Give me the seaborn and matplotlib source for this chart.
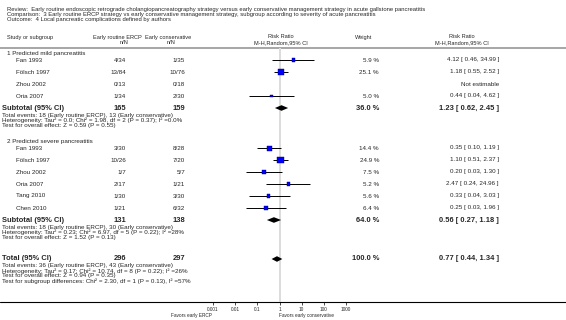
# Forest plot: early routine ERCP vs early conservative management, local complications

import numpy as np
import pandas as pd
import matplotlib
matplotlib.use("Agg")
import matplotlib.pyplot as plt
import seaborn as sns

review = ("Review:  Early routine endoscopic retrograde cholangiopancreatography strategy "
          "versus early conservative management strategy in acute gallstone pancreatitis")
comparison = ("Comparison:  3 Early routine ERCP strategy vs early conservative management "
              "strategy, subgroup according to severity of acute pancreatitis")
outcome = "Outcome:  4 Local pancreatic complications defined by authors"

# subgroup 1
mild_name = "1 Predicted mild pancreatitis"
mild_studies = ["Fan 1993", "Fölsch 1997", "Zhou 2002", "Oria 2007"]
mild_ercp = ["4/34", "13/84", "0/13", "1/34"]
mild_cons = ["1/35", "10/76", "0/18", "2/30"]
mild_weight = [5.9, 25.1, np.nan, 5.0]
mild_rr = [4.12, 1.18, np.nan, 0.44]
mild_lo = [0.46, 0.55, np.nan, 0.04]
mild_hi = [34.99, 2.52, np.nan, 4.62]
mild_sub = ["165", "159", 36.0, 1.23, 0.62, 2.45]
mild_stats = ["Total events: 18 (Early routine ERCP), 13 (Early conservative)",
              "Heterogeneity: Tau² = 0.0; Chi² = 1.98, df = 2 (P = 0.37); I² =0.0%",
              "Test for overall effect: Z = 0.59 (P = 0.55)"]

# subgroup 2
severe_name = "2 Predicted severe pancreatitis"
severe_studies = ["Fan 1993", "Fölsch 1997", "Zhou 2002", "Oria 2007", "Tang 2010", "Chen 2010"]
severe_ercp = ["3/30", "10/26", "1/7", "2/17", "1/30", "1/21"]
severe_cons = ["8/28", "7/20", "5/7", "1/21", "3/30", "6/32"]
severe_weight = [14.4, 24.9, 7.5, 5.2, 5.6, 6.4]
severe_rr = [0.35, 1.10, 0.20, 2.47, 0.33, 0.25]
severe_lo = [0.10, 0.51, 0.03, 0.24, 0.04, 0.03]
severe_hi = [1.19, 2.37, 1.30, 24.96, 3.03, 1.96]
severe_sub = ["131", "138", 64.0, 0.56, 0.27, 1.18]
severe_stats = ["Total events: 18 (Early routine ERCP), 30 (Early conservative)",
                "Heterogeneity: Tau² = 0.23; Chi² = 6.97, df = 5 (P = 0.22); I² =28%",
                "Test for overall effect: Z = 1.52 (P = 0.13)"]

# overall
total_row = ["296", "297", 100.0, 0.77, 0.44, 1.34]
total_stats = ["Total events: 36 (Early routine ERCP), 43 (Early conservative)",
               "Heterogeneity: Tau² = 0.17; Chi² = 10.74, df = 8 (P = 0.22); I² =26%",
               "Test for overall effect: Z = 0.94 (P = 0.35)",
               "Test for subgroup differences: Chi² = 2.30, df = 1 (P = 0.13), I² =57%"]

tick_vals = [0.001, 0.01, 0.1, 1, 10, 100, 1000]
tick_labels = ["0.001", "0.01", "0.1", "1", "10", "100", "1000"]

sns.set_style("white")
plt.rcParams["font.family"] = ["Liberation Sans", "DejaVu Sans"]

W, H = 566, 320
fig = plt.figure(figsize=(W / 100, H / 100), dpi=100)

# text layer in pixel coordinates
tx = fig.add_axes([0, 0, 1, 1])
tx.set_xlim(0, W)
tx.set_ylim(H, 0)
tx.axis("off")

# forest axis
top, bot = 48, 302
x_left, x_right = 213, 346
ax = fig.add_axes([x_left / W, (H - bot) / H, (x_right - x_left) / W, (bot - top) / H])
ax.patch.set_alpha(0)
ax.set_xscale("log")
ax.set_xlim(1e-3, 1e3)
ax.set_ylim(bot, top)

FS = 4.5
FSH = 4.1
FSS = 4.5
FSB = 5.4
col_study, col_ercp, col_cons, col_wt, col_rr = 16, 126, 185, 379, 499


def rr_text(rr, lo, hi):
    return f"{rr:.2f} [ {lo:.2f}, {hi:.2f} ]"


# headers
for i, line in enumerate([review, comparison, outcome]):
    tx.text(7, 9.5 + 5.2 * i, line, fontsize=4.25, va="center")
tx.text(7, 38, "Study or subgroup", fontsize=FSH, va="center")
tx.text(117, 37, "Early routine ERCP", fontsize=FSH, va="center", ha="center")
tx.text(124, 43, "n/N", fontsize=FSH, va="center", ha="center")
tx.text(168, 37, "Early conservative", fontsize=FSH, va="center", ha="center")
tx.text(171, 43, "n/N", fontsize=FSH, va="center", ha="center")
tx.text(281, 37, "Risk Ratio", fontsize=FSH, va="center", ha="center")
tx.text(281, 43, "M-H,Random,95% CI", fontsize=FSH, va="center", ha="center")
tx.text(364, 37, "Weight", fontsize=FSH, va="center", ha="center")
tx.text(462, 37, "Risk Ratio", fontsize=FSH, va="center", ha="center")
tx.text(462, 43, "M-H,Random,95% CI", fontsize=FSH, va="center", ha="center")
tx.axhline(top, color="#a6a6a6", lw=1.4)
tx.axhline(bot, color="black", lw=0.8)

ax.axvline(1, color="#dcdcdc", lw=1.4, zorder=0)

groups = [
    (mild_name, mild_studies, mild_ercp, mild_cons, mild_weight, mild_rr, mild_lo, mild_hi, mild_sub, mild_stats),
    (severe_name, severe_studies, severe_ercp, severe_cons, severe_weight, severe_rr, severe_lo, severe_hi, severe_sub, severe_stats),
]

frames = []
summaries = []
y = 54
for name, studies, ercp, cons, wt, rr, lo, hi, sub, stats in groups:
    tx.text(7, y, name, fontsize=FS, va="center")
    ys = [y + 6 + 12 * i for i in range(len(studies))]
    for yi, s, e, c, w, r, l, h in zip(ys, studies, ercp, cons, wt, rr, lo, hi):
        tx.text(col_study, yi, s, fontsize=FS, va="center")
        tx.text(col_ercp, yi, e, fontsize=FS, va="center", ha="right")
        tx.text(col_cons, yi, c, fontsize=FS, va="center", ha="right")
        if np.isnan(r):
            tx.text(col_rr, yi, "Not estimable", fontsize=FS, va="center", ha="right")
        else:
            tx.text(col_wt, yi, f"{w:.1f} %", fontsize=FS, va="center", ha="right")
            tx.text(col_rr, yi, rr_text(r, l, h), fontsize=FS, va="center", ha="right")
    frames.append(pd.DataFrame({"y": ys, "weight": wt, "rr": rr, "lo": lo, "hi": hi}))
    ysub = ys[-1] + 12
    summaries.append(("Subtotal (95% CI)", ysub, sub, stats))
    y = ysub + 34

summaries.append(("Total (95% CI)", summaries[-1][1] + 39, total_row, total_stats))

for label, ys_, row, stats in summaries:
    n1, n2, w, r, l, h = row
    tx.text(2, ys_, label, fontsize=FSB, fontweight="bold", va="center")
    tx.text(col_ercp, ys_, n1, fontsize=FSB, fontweight="bold", va="center", ha="right")
    tx.text(col_cons, ys_, n2, fontsize=FSB, fontweight="bold", va="center", ha="right")
    tx.text(col_wt, ys_, f"{w:.1f} %", fontsize=FSB, fontweight="bold", va="center", ha="right")
    tx.text(col_rr, ys_, rr_text(r, l, h), fontsize=FSB, fontweight="bold", va="center", ha="right")
    for j, s in enumerate(stats):
        tx.text(2, ys_ + 7 + 5 * j, s, fontsize=FSS, va="center")
    ax.fill([l, r, h, r], [ys_, ys_ - 2.8, ys_, ys_ + 2.8], color="black", lw=0)

studies_df = pd.concat(frames, ignore_index=True).dropna()
ax.hlines(studies_df["y"], studies_df["lo"], studies_df["hi"], color="black", lw=0.7, zorder=2)
sns.scatterplot(data=studies_df, x="rr", y="y", size="weight", sizes=(0, 27), size_norm=(0, 30),
                marker="s", color="#0000ff", edgecolor="#000066", linewidth=0.3,
                legend=False, ax=ax, zorder=3)

ax.set_xlabel("")
ax.set_ylabel("")
ax.set_yticks([])
ax.set_xticks(tick_vals)
ax.set_xticklabels(tick_labels)
ax.minorticks_off()
ax.tick_params(axis="x", bottom=True, length=2, width=0.5, labelsize=3.4, pad=1.5, color="black")
for sp in ax.spines.values():
    sp.set_visible(False)

tx.text(191, 315, "Favors early ERCP", fontsize=3.4, va="center", ha="center")
tx.text(279, 315, "Favors early conservative", fontsize=3.4, va="center", ha="left")

fig.savefig("out.png", dpi=100)
